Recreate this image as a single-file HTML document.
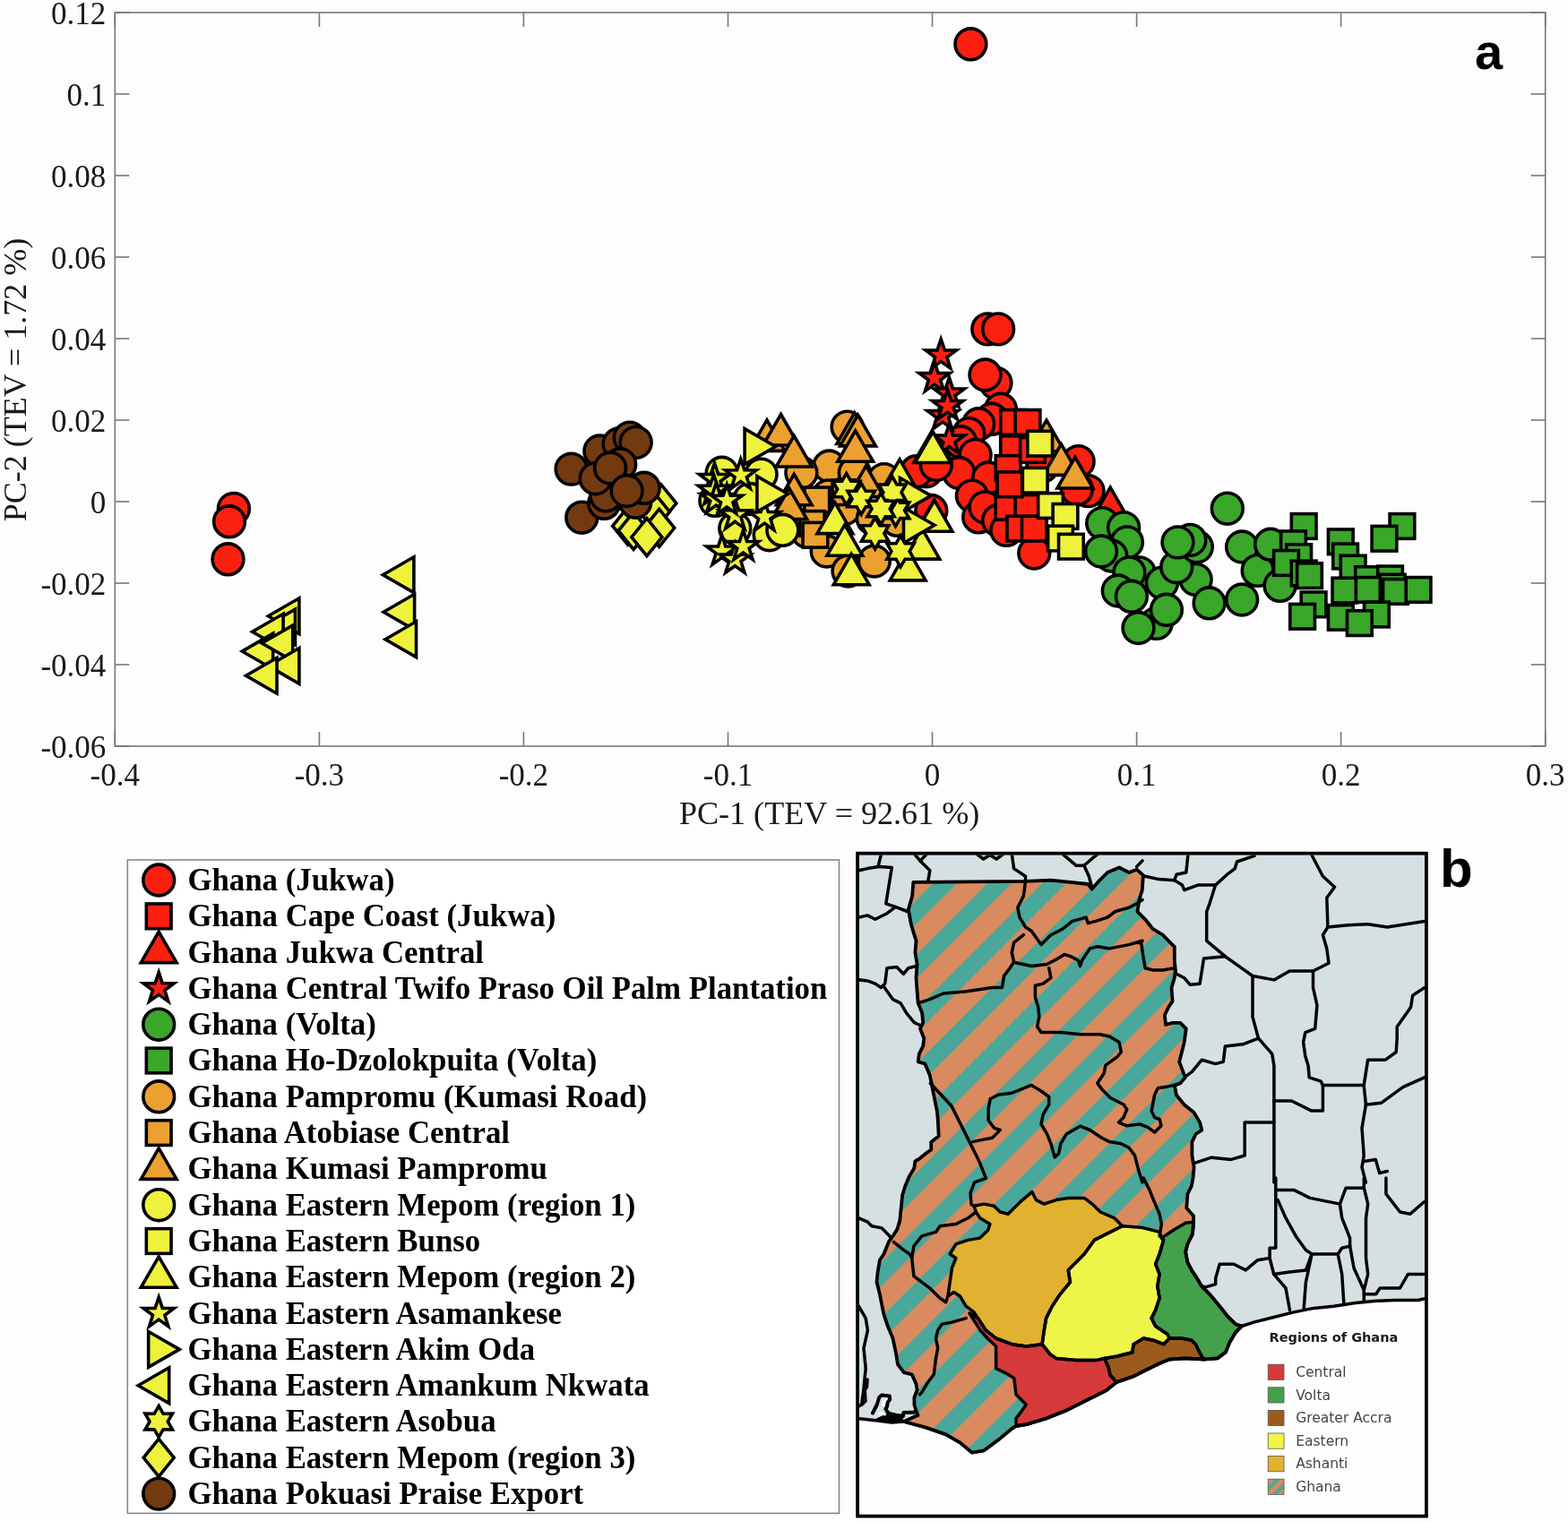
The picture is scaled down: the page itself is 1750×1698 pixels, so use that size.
<!DOCTYPE html>
<html><head><meta charset="utf-8"><style>
html,body{margin:0;padding:0;background:#fdfdfd;}
svg{display:block;}
.tk{font-family:"Liberation Serif",serif;font-size:35px;fill:#1a1a1a;}
.lg{font-family:"Liberation Serif",serif;font-size:34.8px;font-weight:bold;fill:#000;}
.mk{stroke:#000;stroke-width:3.6;stroke-linejoin:miter;stroke-miterlimit:10;}
</style></head><body>
<svg width="1750" height="1698" viewBox="0 0 1750 1698">
<rect width="1750" height="1698" fill="#fdfdfd"/>

<g stroke="#777" stroke-width="1.6"><rect x="128.3" y="14.0" width="1596.4" height="819.0" fill="none" stroke="#777" stroke-width="1.6"/><line x1="128.3" y1="833.0" x2="128.3" y2="817.0" /><line x1="128.3" y1="14.0" x2="128.3" y2="30.0" /><line x1="356.4" y1="833.0" x2="356.4" y2="817.0" /><line x1="356.4" y1="14.0" x2="356.4" y2="30.0" /><line x1="584.4" y1="833.0" x2="584.4" y2="817.0" /><line x1="584.4" y1="14.0" x2="584.4" y2="30.0" /><line x1="812.5" y1="833.0" x2="812.5" y2="817.0" /><line x1="812.5" y1="14.0" x2="812.5" y2="30.0" /><line x1="1040.5" y1="833.0" x2="1040.5" y2="817.0" /><line x1="1040.5" y1="14.0" x2="1040.5" y2="30.0" /><line x1="1268.6" y1="833.0" x2="1268.6" y2="817.0" /><line x1="1268.6" y1="14.0" x2="1268.6" y2="30.0" /><line x1="1496.6" y1="833.0" x2="1496.6" y2="817.0" /><line x1="1496.6" y1="14.0" x2="1496.6" y2="30.0" /><line x1="1724.7" y1="833.0" x2="1724.7" y2="817.0" /><line x1="1724.7" y1="14.0" x2="1724.7" y2="30.0" /><line x1="128.3" y1="833.0" x2="144.3" y2="833.0" /><line x1="1724.7" y1="833.0" x2="1708.7" y2="833.0" /><line x1="128.3" y1="742.0" x2="144.3" y2="742.0" /><line x1="1724.7" y1="742.0" x2="1708.7" y2="742.0" /><line x1="128.3" y1="651.0" x2="144.3" y2="651.0" /><line x1="1724.7" y1="651.0" x2="1708.7" y2="651.0" /><line x1="128.3" y1="560.0" x2="144.3" y2="560.0" /><line x1="1724.7" y1="560.0" x2="1708.7" y2="560.0" /><line x1="128.3" y1="469.0" x2="144.3" y2="469.0" /><line x1="1724.7" y1="469.0" x2="1708.7" y2="469.0" /><line x1="128.3" y1="378.0" x2="144.3" y2="378.0" /><line x1="1724.7" y1="378.0" x2="1708.7" y2="378.0" /><line x1="128.3" y1="287.0" x2="144.3" y2="287.0" /><line x1="1724.7" y1="287.0" x2="1708.7" y2="287.0" /><line x1="128.3" y1="196.0" x2="144.3" y2="196.0" /><line x1="1724.7" y1="196.0" x2="1708.7" y2="196.0" /><line x1="128.3" y1="105.0" x2="144.3" y2="105.0" /><line x1="1724.7" y1="105.0" x2="1708.7" y2="105.0" /><line x1="128.3" y1="14.0" x2="144.3" y2="14.0" /><line x1="1724.7" y1="14.0" x2="1708.7" y2="14.0" /></g>
<g class="tk"><text x="128.3" y="876.5" text-anchor="middle">-0.4</text><text x="356.4" y="876.5" text-anchor="middle">-0.3</text><text x="584.4" y="876.5" text-anchor="middle">-0.2</text><text x="812.5" y="876.5" text-anchor="middle">-0.1</text><text x="1040.5" y="876.5" text-anchor="middle">0</text><text x="1268.6" y="876.5" text-anchor="middle">0.1</text><text x="1496.6" y="876.5" text-anchor="middle">0.2</text><text x="1724.7" y="876.5" text-anchor="middle">0.3</text><text x="118.3" y="845.5" text-anchor="end">-0.06</text><text x="118.3" y="754.5" text-anchor="end">-0.04</text><text x="118.3" y="663.5" text-anchor="end">-0.02</text><text x="118.3" y="572.5" text-anchor="end">0</text><text x="118.3" y="481.5" text-anchor="end">0.02</text><text x="118.3" y="390.5" text-anchor="end">0.04</text><text x="118.3" y="299.5" text-anchor="end">0.06</text><text x="118.3" y="208.5" text-anchor="end">0.08</text><text x="118.3" y="117.5" text-anchor="end">0.1</text><text x="118.3" y="26.5" text-anchor="end">0.12</text></g>
<text class="tk" x="925.6" y="919.8" text-anchor="middle" style="font-size:36.1px">PC-1 (TEV = 92.61 %)</text>
<text class="tk" transform="translate(29.4,424) rotate(-90)" x="0" y="0" text-anchor="middle" style="font-size:36.0px">PC-2 (TEV = 1.72 %)</text>
<text x="1646" y="77" style="font-family:'Liberation Sans',sans-serif;font-weight:bold;font-size:56px;fill:#000">a</text>
<text x="1607" y="990" style="font-family:'Liberation Sans',sans-serif;font-weight:bold;font-size:60px;fill:#000">b</text>
<g class="mk"><circle cx="260.9" cy="567.9" r="17.4" fill="#fc2010"/><circle cx="256.0" cy="582.3" r="17.4" fill="#fc2010"/><circle cx="254.5" cy="624.3" r="17.4" fill="#fc2010"/><circle cx="1102.3" cy="367.4" r="17.4" fill="#fc2010"/><circle cx="1114.1" cy="367.4" r="17.4" fill="#fc2010"/><circle cx="1111.4" cy="427.6" r="17.4" fill="#fc2010"/><circle cx="1099.5" cy="418.5" r="17.4" fill="#fc2010"/><circle cx="1116.9" cy="456.8" r="17.4" fill="#fc2010"/><circle cx="1106.8" cy="467.8" r="17.4" fill="#fc2010"/><circle cx="1092.2" cy="473.3" r="17.4" fill="#fc2010"/><circle cx="1081.3" cy="484.2" r="17.4" fill="#fc2010"/><circle cx="1072.1" cy="493.3" r="17.4" fill="#fc2010"/><circle cx="1088.6" cy="507.9" r="17.4" fill="#fc2010"/><circle cx="1070.3" cy="528.0" r="17.4" fill="#fc2010"/><circle cx="1103.2" cy="533.5" r="17.4" fill="#fc2010"/><circle cx="1084.9" cy="553.6" r="17.4" fill="#fc2010"/><circle cx="1092.2" cy="577.3" r="17.4" fill="#fc2010"/><circle cx="1099.5" cy="566.4" r="17.4" fill="#fc2010"/><circle cx="1114.1" cy="581.0" r="17.4" fill="#fc2010"/><circle cx="1154.3" cy="617.5" r="17.4" fill="#fc2010"/><circle cx="1203.6" cy="515.2" r="17.4" fill="#fc2010"/><circle cx="1214.5" cy="548.1" r="17.4" fill="#fc2010"/><circle cx="1201.8" cy="546.3" r="17.4" fill="#fc2010"/><circle cx="1033.8" cy="526.2" r="17.4" fill="#fc2010"/><circle cx="1022.9" cy="526.2" r="17.4" fill="#fc2010"/><circle cx="1044.8" cy="518.9" r="17.4" fill="#fc2010"/><circle cx="1039.3" cy="570.0" r="17.4" fill="#fc2010"/><circle cx="1132.4" cy="544.5" r="17.4" fill="#fc2010"/><circle cx="1123.3" cy="591.9" r="17.4" fill="#fc2010"/><circle cx="1163.4" cy="520.7" r="17.4" fill="#fc2010"/><circle cx="1083.4" cy="49.3" r="17.4" fill="#fc2010"/><rect x="1116.71" y="457.58" width="27.7" height="27.7" fill="#fc2010"/><rect x="1133.14" y="457.58" width="27.7" height="27.7" fill="#fc2010"/><rect x="1116.71" y="486.79" width="27.7" height="27.7" fill="#fc2010"/><rect x="1111.24" y="508.70" width="27.7" height="27.7" fill="#fc2010"/><rect x="1138.62" y="488.62" width="27.7" height="27.7" fill="#fc2010"/><rect x="1111.24" y="552.51" width="27.7" height="27.7" fill="#fc2010"/><rect x="1133.14" y="552.51" width="27.7" height="27.7" fill="#fc2010"/><rect x="1124.01" y="576.24" width="27.7" height="27.7" fill="#fc2010"/><rect x="1140.44" y="576.24" width="27.7" height="27.7" fill="#fc2010"/><rect x="1113.06" y="526.95" width="27.7" height="27.7" fill="#fc2010"/><polygon points="1239.2,544.1 1259.1,578.6 1219.3,578.6" fill="#fc2010"/><polygon points="1050.2,378.6 1054.4,390.9 1067.4,391.0 1056.9,398.8 1060.8,411.2 1050.2,403.6 1039.7,411.2 1043.6,398.8 1033.1,391.0 1046.1,390.9" fill="#fc2010"/><polygon points="1042.9,404.1 1047.1,416.5 1060.1,416.6 1049.6,424.3 1053.5,436.7 1042.9,429.1 1032.4,436.7 1036.3,424.3 1025.8,416.6 1038.8,416.5" fill="#fc2010"/><polygon points="1059.4,421.5 1063.5,433.8 1076.5,433.9 1066.0,441.7 1069.9,454.1 1059.4,446.5 1048.8,454.1 1052.7,441.7 1042.2,433.9 1055.3,433.8" fill="#fc2010"/><polygon points="1052.1,446.1 1056.2,458.5 1069.2,458.6 1058.7,466.3 1062.6,478.7 1052.1,471.1 1041.5,478.7 1045.4,466.3 1034.9,458.6 1048.0,458.5" fill="#fc2010"/><polygon points="1057.5,435.2 1061.7,447.5 1074.7,447.6 1064.2,455.3 1068.1,467.7 1057.5,460.2 1047.0,467.7 1050.9,455.3 1040.4,447.6 1053.4,447.5" fill="#fc2010"/><polygon points="1059.4,473.5 1063.5,485.9 1076.5,486.0 1066.0,493.7 1069.9,506.1 1059.4,498.5 1048.8,506.1 1052.7,493.7 1042.2,486.0 1055.3,485.9" fill="#fc2010"/><circle cx="1369.8" cy="567.7" r="17.4" fill="#3aa62a"/><circle cx="1230.2" cy="584.1" r="17.4" fill="#3aa62a"/><circle cx="1254.1" cy="589.1" r="17.4" fill="#3aa62a"/><circle cx="1257.9" cy="605.4" r="17.4" fill="#3aa62a"/><circle cx="1240.3" cy="620.5" r="17.4" fill="#3aa62a"/><circle cx="1229.0" cy="615.5" r="17.4" fill="#3aa62a"/><circle cx="1271.7" cy="639.4" r="17.4" fill="#3aa62a"/><circle cx="1260.4" cy="639.4" r="17.4" fill="#3aa62a"/><circle cx="1247.8" cy="659.5" r="17.4" fill="#3aa62a"/><circle cx="1262.9" cy="665.8" r="17.4" fill="#3aa62a"/><circle cx="1296.9" cy="650.7" r="17.4" fill="#3aa62a"/><circle cx="1334.6" cy="646.9" r="17.4" fill="#3aa62a"/><circle cx="1313.2" cy="633.1" r="17.4" fill="#3aa62a"/><circle cx="1335.8" cy="610.5" r="17.4" fill="#3aa62a"/><circle cx="1328.3" cy="602.9" r="17.4" fill="#3aa62a"/><circle cx="1314.5" cy="605.4" r="17.4" fill="#3aa62a"/><circle cx="1290.6" cy="695.9" r="17.4" fill="#3aa62a"/><circle cx="1270.5" cy="701.0" r="17.4" fill="#3aa62a"/><circle cx="1301.9" cy="680.8" r="17.4" fill="#3aa62a"/><circle cx="1349.6" cy="673.3" r="17.4" fill="#3aa62a"/><circle cx="1386.1" cy="669.5" r="17.4" fill="#3aa62a"/><circle cx="1386.1" cy="610.5" r="17.4" fill="#3aa62a"/><circle cx="1403.7" cy="636.9" r="17.4" fill="#3aa62a"/><circle cx="1418.1" cy="607.8" r="17.4" fill="#3aa62a"/><circle cx="1428.6" cy="653.8" r="17.4" fill="#3aa62a"/><rect x="1441.32" y="573.61" width="27.7" height="27.7" fill="#3aa62a"/><rect x="1551.06" y="573.61" width="27.7" height="27.7" fill="#3aa62a"/><rect x="1531.09" y="587.41" width="27.7" height="27.7" fill="#3aa62a"/><rect x="1482.46" y="590.95" width="27.7" height="27.7" fill="#3aa62a"/><rect x="1429.63" y="592.92" width="27.7" height="27.7" fill="#3aa62a"/><rect x="1435.80" y="607.78" width="27.7" height="27.7" fill="#3aa62a"/><rect x="1487.72" y="607.12" width="27.7" height="27.7" fill="#3aa62a"/><rect x="1421.61" y="614.61" width="27.7" height="27.7" fill="#3aa62a"/><rect x="1496.26" y="620.26" width="27.7" height="27.7" fill="#3aa62a"/><rect x="1441.32" y="626.17" width="27.7" height="27.7" fill="#3aa62a"/><rect x="1447.63" y="628.80" width="27.7" height="27.7" fill="#3aa62a"/><rect x="1512.69" y="632.75" width="27.7" height="27.7" fill="#3aa62a"/><rect x="1537.66" y="632.09" width="27.7" height="27.7" fill="#3aa62a"/><rect x="1487.06" y="645.23" width="27.7" height="27.7" fill="#3aa62a"/><rect x="1513.34" y="644.57" width="27.7" height="27.7" fill="#3aa62a"/><rect x="1540.29" y="641.29" width="27.7" height="27.7" fill="#3aa62a"/><rect x="1543.57" y="646.55" width="27.7" height="27.7" fill="#3aa62a"/><rect x="1569.20" y="644.57" width="27.7" height="27.7" fill="#3aa62a"/><rect x="1452.23" y="661.00" width="27.7" height="27.7" fill="#3aa62a"/><rect x="1439.75" y="674.41" width="27.7" height="27.7" fill="#3aa62a"/><rect x="1482.46" y="675.46" width="27.7" height="27.7" fill="#3aa62a"/><rect x="1522.54" y="672.17" width="27.7" height="27.7" fill="#3aa62a"/><rect x="1503.49" y="681.77" width="27.7" height="27.7" fill="#3aa62a"/><circle cx="945.6" cy="476.6" r="17.4" fill="#eca030"/><circle cx="925.5" cy="520.5" r="17.4" fill="#eca030"/><circle cx="894.4" cy="527.8" r="17.4" fill="#eca030"/><circle cx="953.8" cy="527.8" r="17.4" fill="#eca030"/><circle cx="986.7" cy="535.1" r="17.4" fill="#eca030"/><circle cx="924.6" cy="553.4" r="17.4" fill="#eca030"/><circle cx="942.8" cy="568.0" r="17.4" fill="#eca030"/><circle cx="973.9" cy="579.0" r="17.4" fill="#eca030"/><circle cx="1001.4" cy="580.8" r="17.4" fill="#eca030"/><circle cx="922.7" cy="615.5" r="17.4" fill="#eca030"/><circle cx="946.5" cy="637.5" r="17.4" fill="#eca030"/><circle cx="975.8" cy="626.5" r="17.4" fill="#eca030"/><circle cx="900.8" cy="593.6" r="17.4" fill="#eca030"/><rect x="897.91" y="544.09" width="27.7" height="27.7" fill="#eca030"/><rect x="892.43" y="570.60" width="27.7" height="27.7" fill="#eca030"/><rect x="896.09" y="583.40" width="27.7" height="27.7" fill="#eca030"/><rect x="929.00" y="535.86" width="27.7" height="27.7" fill="#eca030"/><polygon points="856.0,468.9 875.9,503.4 836.1,503.4" fill="#eca030"/><polygon points="871.5,462.5 891.4,497.0 851.6,497.0" fill="#eca030"/><polygon points="886.2,486.5 906.1,521.0 866.3,521.0" fill="#eca030"/><polygon points="886.2,529.3 906.1,563.8 866.3,563.8" fill="#eca030"/><polygon points="880.7,545.0 900.6,579.5 860.8,579.5" fill="#eca030"/><polygon points="953.8,460.9 973.7,495.4 933.9,495.4" fill="#eca030"/><polygon points="957.5,463.4 977.4,497.9 937.6,497.9" fill="#eca030"/><polygon points="954.7,480.8 974.6,515.3 934.8,515.3" fill="#eca030"/><polygon points="966.6,520.1 986.5,554.6 946.7,554.6" fill="#eca030"/><polygon points="1168.0,469.2 1187.9,503.7 1148.1,503.7" fill="#eca030"/><polygon points="1184.4,495.9 1204.3,530.4 1164.5,530.4" fill="#eca030"/><polygon points="1199.9,510.5 1219.8,545.0 1180.0,545.0" fill="#eca030"/><circle cx="805.7" cy="527.8" r="17.4" fill="#eef23c"/><circle cx="849.6" cy="529.6" r="17.4" fill="#eef23c"/><circle cx="858.7" cy="597.2" r="17.4" fill="#eef23c"/><circle cx="873.4" cy="591.8" r="17.4" fill="#eef23c"/><circle cx="820.3" cy="589.9" r="17.4" fill="#eef23c"/><circle cx="836.8" cy="557.0" r="17.4" fill="#eef23c"/><circle cx="798.4" cy="558.9" r="17.4" fill="#eef23c"/><rect x="1146.83" y="481.32" width="27.7" height="27.7" fill="#eef23c"/><rect x="1141.36" y="522.39" width="27.7" height="27.7" fill="#eef23c"/><rect x="1158.70" y="550.68" width="27.7" height="27.7" fill="#eef23c"/><rect x="1175.13" y="562.55" width="27.7" height="27.7" fill="#eef23c"/><rect x="1169.65" y="587.19" width="27.7" height="27.7" fill="#eef23c"/><rect x="1181.52" y="596.32" width="27.7" height="27.7" fill="#eef23c"/><polygon points="1039.8,481.7 1059.7,516.2 1019.9,516.2" fill="#eef23c"/><polygon points="1004.1,512.8 1024.0,547.3 984.2,547.3" fill="#eef23c"/><polygon points="931.9,561.1 951.8,595.6 912.0,595.6" fill="#eef23c"/><polygon points="942.8,585.8 962.7,620.3 922.9,620.3" fill="#eef23c"/><polygon points="950.2,618.3 970.1,652.8 930.3,652.8" fill="#eef23c"/><polygon points="1042.5,558.5 1062.4,593.0 1022.6,593.0" fill="#eef23c"/><polygon points="1013.2,613.4 1033.1,647.9 993.3,647.9" fill="#eef23c"/><polygon points="1028.8,589.6 1048.7,624.1 1008.9,624.1" fill="#eef23c"/><polygon points="1041.1,482.0 1061.0,516.5 1021.2,516.5" fill="#eef23c"/><polygon points="1042.9,558.7 1062.8,593.2 1023.0,593.2" fill="#eef23c"/><polygon points="797.5,517.1 801.6,529.4 814.6,529.5 804.1,537.2 808.1,549.6 797.5,542.1 786.9,549.6 790.8,537.2 780.4,529.5 793.4,529.4" fill="#eef23c"/><polygon points="796.6,529.9 800.7,542.2 813.7,542.3 803.2,550.0 807.1,562.4 796.6,554.9 786.0,562.4 789.9,550.0 779.5,542.3 792.5,542.2" fill="#eef23c"/><polygon points="799.3,539.0 803.4,551.4 816.4,551.5 806.0,559.2 809.9,571.6 799.3,564.0 788.7,571.6 792.7,559.2 782.2,551.5 795.2,551.4" fill="#eef23c"/><polygon points="826.7,512.5 830.9,524.8 843.9,524.9 833.4,532.7 837.3,545.1 826.7,537.5 816.2,545.1 820.1,532.7 809.6,524.9 822.6,524.8" fill="#eef23c"/><polygon points="820.3,557.3 824.5,569.6 837.5,569.7 827.0,577.5 830.9,589.9 820.3,582.3 809.8,589.9 813.7,577.5 803.2,569.7 816.2,569.6" fill="#eef23c"/><polygon points="853.3,559.1 857.4,571.5 870.4,571.6 859.9,579.3 863.8,591.7 853.3,584.1 842.7,591.7 846.6,579.3 836.1,571.6 849.1,571.5" fill="#eef23c"/><polygon points="805.7,597.5 809.8,609.9 822.8,610.0 812.4,617.7 816.3,630.1 805.7,622.5 795.1,630.1 799.1,617.7 788.6,610.0 801.6,609.9" fill="#eef23c"/><polygon points="820.3,606.7 824.5,619.0 837.5,619.1 827.0,626.8 830.9,639.2 820.3,631.7 809.8,639.2 813.7,626.8 803.2,619.1 816.2,619.0" fill="#eef23c"/><polygon points="829.5,592.0 833.6,604.4 846.6,604.5 836.1,612.2 840.1,624.6 829.5,617.0 818.9,624.6 822.8,612.2 812.4,604.5 825.4,604.4" fill="#eef23c"/><polygon points="811.2,540.9 815.3,553.2 828.3,553.3 817.9,561.0 821.8,573.4 811.2,565.9 800.6,573.4 804.5,561.0 794.1,553.3 807.1,553.2" fill="#eef23c"/><polygon points="865.6,498.5 831.1,478.6 831.1,518.4" fill="#eef23c"/><polygon points="879.4,551.5 844.9,531.6 844.9,571.4" fill="#eef23c"/><polygon points="1043.0,586.3 1008.5,566.4 1008.5,606.2" fill="#eef23c"/><polygon points="1039.0,553.4 1004.5,533.5 1004.5,573.3" fill="#eef23c"/><polygon points="427.4,641.7 461.9,621.8 461.9,661.6" fill="#eef23c"/><polygon points="428.1,683.2 462.6,663.3 462.6,703.1" fill="#eef23c"/><polygon points="430.0,713.7 464.5,693.8 464.5,733.6" fill="#eef23c"/><polygon points="299.4,687.7 333.9,667.8 333.9,707.6" fill="#eef23c"/><polygon points="295.0,700.0 329.5,680.1 329.5,719.9" fill="#eef23c"/><polygon points="281.6,705.2 316.1,685.3 316.1,725.1" fill="#eef23c"/><polygon points="270.2,727.1 304.7,707.2 304.7,747.0" fill="#eef23c"/><polygon points="292.2,718.0 326.7,698.1 326.7,737.9" fill="#eef23c"/><polygon points="299.4,743.4 333.9,723.5 333.9,763.3" fill="#eef23c"/><polygon points="274.5,754.3 309.0,734.4 309.0,774.2" fill="#eef23c"/><polygon points="944.7,528.6 949.7,537.3 959.8,537.3 954.8,546.1 959.8,554.8 949.7,554.8 944.7,563.6 939.6,554.8 929.5,554.8 934.6,546.1 929.5,537.3 939.6,537.3" fill="#eef23c"/><polygon points="961.1,539.5 966.2,548.3 976.3,548.3 971.2,557.0 976.3,565.8 966.2,565.8 961.1,574.5 956.1,565.8 946.0,565.8 951.0,557.0 946.0,548.3 956.1,548.3" fill="#eef23c"/><polygon points="999.5,552.3 1004.6,561.1 1014.7,561.1 1009.6,569.8 1014.7,578.6 1004.6,578.6 999.5,587.3 994.5,578.6 984.4,578.6 989.4,569.8 984.4,561.1 994.5,561.1" fill="#eef23c"/><polygon points="995.9,532.2 1000.9,541.0 1011.0,541.0 1006.0,549.7 1011.0,558.5 1000.9,558.5 995.9,567.2 990.8,558.5 980.7,558.5 985.8,549.7 980.7,541.0 990.8,541.0" fill="#eef23c"/><polygon points="976.7,577.9 981.7,586.7 991.8,586.7 986.8,595.4 991.8,604.2 981.7,604.2 976.7,612.9 971.6,604.2 961.5,604.2 966.6,595.4 961.5,586.7 971.6,586.7" fill="#eef23c"/><polygon points="1005.0,598.0 1010.1,606.8 1020.2,606.8 1015.1,615.5 1020.2,624.3 1010.1,624.3 1005.0,633.0 1000.0,624.3 989.9,624.3 994.9,615.5 989.9,606.8 1000.0,606.8" fill="#eef23c"/><polygon points="983.1,550.5 988.1,559.2 998.2,559.2 993.2,568.0 998.2,576.7 988.1,576.7 983.1,585.5 978.0,576.7 967.9,576.7 973.0,568.0 967.9,559.2 978.0,559.2" fill="#eef23c"/><polygon points="737.8,540.8 754.8,561.8 737.8,582.8 720.8,561.8" fill="#eef23c"/><polygon points="730.4,550.3 747.4,571.3 730.4,592.3 713.4,571.3" fill="#eef23c"/><polygon points="700.7,566.2 717.7,587.2 700.7,608.2 683.7,587.2" fill="#eef23c"/><polygon points="707.1,571.5 724.1,592.5 707.1,613.5 690.1,592.5" fill="#eef23c"/><polygon points="735.7,568.3 752.7,589.3 735.7,610.3 718.7,589.3" fill="#eef23c"/><polygon points="721.9,578.7 738.9,599.7 721.9,620.7 704.9,599.7" fill="#eef23c"/><circle cx="637.6" cy="523.6" r="17.4" fill="#733a10"/><circle cx="649.3" cy="577.7" r="17.4" fill="#733a10"/><circle cx="669.4" cy="503.5" r="17.4" fill="#733a10"/><circle cx="690.6" cy="495.5" r="17.4" fill="#733a10"/><circle cx="702.8" cy="488.6" r="17.4" fill="#733a10"/><circle cx="709.7" cy="493.9" r="17.4" fill="#733a10"/><circle cx="674.2" cy="561.8" r="17.4" fill="#733a10"/><circle cx="676.3" cy="553.3" r="17.4" fill="#733a10"/><circle cx="664.7" cy="534.2" r="17.4" fill="#733a10"/><circle cx="692.2" cy="518.3" r="17.4" fill="#733a10"/><circle cx="681.1" cy="522.5" r="17.4" fill="#733a10"/><circle cx="709.2" cy="560.7" r="17.4" fill="#733a10"/><circle cx="718.7" cy="544.8" r="17.4" fill="#733a10"/><circle cx="699.6" cy="548.0" r="17.4" fill="#733a10"/></g>
<rect x="142.3" y="960" width="794.2" height="729.4" fill="#fff" stroke="#888" stroke-width="1.6"/>
<g class="mk"><circle cx="177.2" cy="982.5" r="17.4" fill="#fc2010"/><rect x="163.35" y="1008.95" width="27.7" height="27.7" fill="#fc2010"/><polygon points="177.2,1040.1 197.1,1074.6 157.3,1074.6" fill="#fc2010"/><polygon points="177.2,1085.4 181.3,1097.7 194.3,1097.8 183.9,1105.6 187.8,1118.0 177.2,1110.4 166.6,1118.0 170.5,1105.6 160.1,1097.8 173.1,1097.7" fill="#fc2010"/><circle cx="177.2" cy="1143.7" r="17.4" fill="#3aa62a"/><rect x="163.35" y="1170.15" width="27.7" height="27.7" fill="#3aa62a"/><circle cx="177.2" cy="1224.3" r="17.4" fill="#eca030"/><rect x="163.35" y="1250.75" width="27.7" height="27.7" fill="#eca030"/><polygon points="177.2,1281.9 197.1,1316.4 157.3,1316.4" fill="#eca030"/><circle cx="177.2" cy="1345.2" r="17.4" fill="#eef23c"/><rect x="163.35" y="1371.65" width="27.7" height="27.7" fill="#eef23c"/><polygon points="177.2,1402.8 197.1,1437.3 157.3,1437.3" fill="#eef23c"/><polygon points="177.2,1448.1 181.3,1460.4 194.3,1460.5 183.9,1468.3 187.8,1480.7 177.2,1473.1 166.6,1480.7 170.5,1468.3 160.1,1460.5 173.1,1460.4" fill="#eef23c"/><polygon points="200.2,1506.4 165.7,1486.5 165.7,1526.3" fill="#eef23c"/><polygon points="154.2,1546.7 188.7,1526.8 188.7,1566.6" fill="#eef23c"/><polygon points="177.2,1569.5 182.2,1578.3 192.4,1578.2 187.3,1587.0 192.4,1595.8 182.2,1595.7 177.2,1604.5 172.1,1595.7 162.0,1595.8 167.1,1587.0 162.0,1578.2 172.1,1578.3" fill="#eef23c"/><polygon points="177.2,1606.3 194.2,1627.3 177.2,1648.3 160.2,1627.3" fill="#eef23c"/><circle cx="177.2" cy="1667.6" r="17.4" fill="#733a10"/></g>
<g class="lg"><text x="209.4" y="993.9">Ghana (Jukwa)</text><text x="209.4" y="1034.2">Ghana Cape Coast (Jukwa)</text><text x="209.4" y="1074.5">Ghana Jukwa Central</text><text x="209.4" y="1114.8">Ghana Central Twifo Praso Oil Palm Plantation</text><text x="209.4" y="1155.1">Ghana (Volta)</text><text x="209.4" y="1195.4">Ghana Ho-Dzolokpuita (Volta)</text><text x="209.4" y="1235.7">Ghana Pampromu (Kumasi Road)</text><text x="209.4" y="1276.0">Ghana Atobiase Central</text><text x="209.4" y="1316.3">Ghana Kumasi Pampromu</text><text x="209.4" y="1356.6">Ghana Eastern Mepom (region 1)</text><text x="209.4" y="1396.9">Ghana Eastern Bunso</text><text x="209.4" y="1437.2">Ghana Eastern Mepom (region 2)</text><text x="209.4" y="1477.5">Ghana Eastern Asamankese</text><text x="209.4" y="1517.8">Ghana Eastern Akim Oda</text><text x="209.4" y="1558.1">Ghana Eastern Amankum Nkwata</text><text x="209.4" y="1598.4">Ghana Eastern Asobua</text><text x="209.4" y="1638.7">Ghana Eastern Mepom (region 3)</text><text x="209.4" y="1679.0">Ghana Pokuasi Praise Export</text></g>
<defs>
<pattern id="stripes" patternUnits="userSpaceOnUse" width="43.06" height="20" patternTransform="rotate(45)">
<rect x="0" y="0" width="43.06" height="20" fill="#4aa89a"/>
<rect x="31.6" y="0" width="11.46" height="20" fill="#d98a5e"/>
<rect x="0" y="0" width="12.65" height="20" fill="#d98a5e"/>
</pattern>
<pattern id="stripes2" patternUnits="userSpaceOnUse" width="9.55" height="20" patternTransform="rotate(45)">
<rect x="0" y="0" width="9.55" height="20" fill="#4aa89a"/>
<rect x="0.675" y="0" width="5.25" height="20" fill="#d98a5e"/>
</pattern>
<clipPath id="mapclip"><rect x="959.0" y="954.5" width="631.0" height="736.2"/></clipPath>
</defs>
<g clip-path="url(#mapclip)">
<rect x="959.0" y="954.5" width="631.0" height="736.2" fill="#d6e0e2"/>
<polygon points="957.0,1583.5 977.4,1585.8 995.3,1588.0 1008.7,1586.9 1033.3,1593.6 1055.7,1601.4 1071.4,1610.4 1084.8,1621.6 1098.2,1619.3 1116.1,1605.9 1129.5,1594.7 1134.0,1592.0 1145.2,1590.2 1167.6,1583.5 1190.0,1574.6 1212.3,1563.4 1234.7,1552.2 1245.9,1543.2 1265.0,1536.5 1278.4,1529.8 1291.8,1523.1 1305.3,1517.5 1323.2,1516.3 1343.3,1517.5 1359.0,1516.3 1367.9,1509.6 1372.4,1498.4 1379.1,1487.3 1385.8,1480.5 1399.2,1476.1 1421.6,1470.5 1444.0,1464.9 1466.3,1460.4 1488.7,1458.2 1511.1,1454.8 1533.5,1452.6 1555.8,1451.5 1582.7,1451.5 1592.0,1449.2 1592.0,1692.7 957.0,1692.7" fill="#fefefe"/>
<g fill="none" stroke="#000" stroke-width="3.5" stroke-linejoin="round" stroke-linecap="round"><polyline points="958.3,971.8 968.1,969.6 981.1,967.4 995.3,968.5 988.8,1008.8 998.6,1012.1 1012.7,1017.5"/><polyline points="983.3,954.4 980.1,967.4"/><polyline points="958.3,1024.1 968.1,1021.9 976.8,1026.3 989.9,1019.7 998.6,1013.2"/><polyline points="1020.4,953.3 1026.9,960.9 1037.8,971.8 1035.6,984.9"/><polyline points="1026.9,960.9 1033.4,954.4"/><polyline points="1129.3,953.3 1131.5,969.6 1144.5,978.3 1144.5,983.8"/><polyline points="1185.9,953.3 1201.2,966.3 1209.9,966.3 1215.3,978.3 1218.6,990.3"/><polyline points="1209.9,966.3 1218.6,958.7 1225.2,953.3"/><polyline points="1268.7,967.4 1275.0,960.9"/><polyline points="958.3,1093.8 968.1,1094.9 976.8,1098.1 983.3,1102.5 987.7,1098.1 989.9,1080.7 1000.8,1079.6 1008.4,1087.3 1013.8,1080.7 1022.5,1078.5"/><polyline points="985.5,1100.3 996.4,1115.6 1005.1,1119.9 1011.6,1130.8 1020.4,1141.7 1028.0,1145.0"/><polyline points="1090.3,953.5 1097.6,959.0 1104.9,954.4 1112.2,959.0 1119.5,953.5"/><polyline points="1265.0,974.0 1278.1,978.3 1293.3,981.6 1310.8,982.7 1319.5,988.1 1321.7,993.6 1336.9,988.1 1356.5,988.1"/><polyline points="1356.5,988.1 1369.6,976.2 1378.3,969.6 1380.5,962.0 1400.1,955.4"/><polyline points="1310.8,982.7 1313.0,976.2 1323.8,974.0 1326.0,953.3"/><polyline points="1356.5,988.1 1350.0,1008.8 1346.7,1017.6 1346.7,1050.3 1367.4,1067.7 1382.7,1078.6 1398.0,1089.5 1421.9,1093.9 1439.4,1084.0 1465.5,1084.0 1483.0,1075.3 1480.8,1059.0 1476.4,1043.7 1481.9,1035.0 1504.8,1032.8 1526.6,1031.7 1548.3,1035.0 1589.8,1028.5"/><polyline points="1463.3,953.3 1476.4,978.3 1489.5,990.3 1480.8,1002.3 1481.9,1035.0"/><polyline points="1465.5,1084.0 1465.5,1102.6 1469.9,1122.2 1467.7,1148.3 1456.8,1152.7 1454.6,1163.6 1456.8,1178.9 1460.1,1189.8 1461.2,1202.8 1474.2,1207.2 1476.4,1211.6 1522.2,1211.6 1526.6,1183.2 1546.2,1183.2 1558.2,1174.5 1559.2,1159.2 1559.2,1146.2 1574.5,1124.4 1576.7,1111.3 1589.8,1102.6"/><polyline points="1398.0,1089.5 1398.0,1135.3 1404.5,1159.2 1419.8,1176.7 1421.9,1189.8 1421.9,1229.0 1421.9,1250.8 1421.9,1320.1"/><polyline points="1404.5,1159.2 1387.1,1165.8 1367.4,1168.0 1365.3,1185.4 1356.5,1187.6 1341.3,1183.2 1330.4,1196.3 1321.7,1202.8"/><polyline points="1367.4,1067.7 1343.5,1069.9 1339.1,1098.2 1328.2,1099.3 1321.7,1091.7 1313.0,1087.3 1310.8,1083.0"/><polyline points="1421.9,1229.0 1441.5,1229.0 1463.3,1239.9 1476.4,1239.9 1476.4,1211.6"/><polyline points="1522.2,1211.6 1524.4,1233.3 1541.8,1231.2 1565.8,1213.7 1589.8,1202.8"/><polyline points="1421.9,1253.0 1389.2,1253.0 1389.2,1290.0 1374.0,1294.4 1352.2,1292.2 1332.6,1298.7"/><polyline points="1524.4,1233.3 1520.0,1259.5 1522.2,1290.0 1520.0,1303.1 1524.4,1320.1"/><polyline points="1522.2,1296.6 1535.3,1294.4 1539.6,1309.6 1548.3,1307.5"/><polyline points="958.4,1359.8 968.4,1364.2 972.9,1368.7 984.1,1370.9 993.0,1379.9 997.5,1386.6"/><polyline points="958.4,1458.2 966.2,1471.6 968.4,1485.1 964.0,1505.2 966.2,1527.6 964.0,1550.0 961.7,1567.9"/><polyline points="1423.8,1315.0 1423.8,1393.3 1417.1,1393.3 1417.1,1404.5 1403.7,1406.7 1390.3,1417.9 1376.9,1411.2 1361.2,1411.2 1356.7,1426.9 1356.7,1433.6 1345.5,1436.9 1341.1,1435.8"/><polyline points="1417.1,1404.5 1421.6,1422.4 1435.0,1438.0 1439.5,1462.7"/><polyline points="1421.6,1422.4 1439.5,1420.1 1457.4,1417.9 1464.1,1400.0 1493.2,1400.0 1497.7,1393.3 1506.6,1391.1"/><polyline points="1423.8,1328.4 1444.0,1328.4 1461.9,1337.4 1495.4,1344.1 1497.7,1359.7 1506.6,1382.1 1506.6,1391.1"/><polyline points="1426.1,1339.6 1435.0,1359.7 1446.2,1379.9 1457.4,1395.5 1464.1,1400.0"/><polyline points="1464.1,1400.0 1457.4,1431.3 1455.2,1460.4"/><polyline points="1493.2,1400.0 1497.7,1422.4 1499.9,1455.9"/><polyline points="1495.4,1344.1 1502.1,1326.2 1522.3,1326.2 1522.3,1315.0"/><polyline points="1522.3,1326.2 1526.7,1344.1 1524.5,1359.7 1524.5,1404.5 1526.7,1422.4 1522.3,1440.3 1522.3,1451.5"/><polyline points="1506.6,1391.1 1511.1,1415.7 1522.3,1440.3"/><polyline points="1522.3,1444.8 1535.7,1444.8 1540.2,1438.0 1562.5,1438.0 1571.5,1422.4 1589.4,1422.4"/><polyline points="1546.9,1315.0 1546.9,1332.9 1562.5,1353.0 1573.7,1355.3 1589.4,1341.8"/><polyline points="957.0,1583.5 977.4,1585.8 995.3,1588.0 1008.7,1586.9 1033.3,1593.6 1055.7,1601.4 1071.4,1610.4 1084.8,1621.6 1098.2,1619.3 1116.1,1605.9 1129.5,1594.7 1134.0,1592.0 1145.2,1590.2 1167.6,1583.5 1190.0,1574.6 1212.3,1563.4 1234.7,1552.2 1245.9,1543.2 1265.0,1536.5 1278.4,1529.8 1291.8,1523.1 1305.3,1517.5 1323.2,1516.3 1343.3,1517.5 1359.0,1516.3 1367.9,1509.6 1372.4,1498.4 1379.1,1487.3 1385.8,1480.5 1399.2,1476.1 1421.6,1470.5 1444.0,1464.9 1466.3,1460.4 1488.7,1458.2 1511.1,1454.8 1533.5,1452.6 1555.8,1451.5 1582.7,1451.5 1592.0,1449.2"/></g>
<polygon points="990.0,1578.0 1008.0,1580.5 1008.0,1586.5 1000.0,1588.4 990.0,1587.2 980.0,1585.8 976.0,1584.5" fill="#000"/>
<polyline points="974.0,1577.5 978.8,1568.0 981.2,1560.0 984.0,1557.6 992.8,1558.4 993.2,1562.4 990.8,1565.6 990.0,1570.4 988.4,1572.8 990.8,1576.8 994.0,1578.4 1000.0,1579.6 1008.0,1581.0 1008.4,1577.0 1020.0,1576.8 1023.0,1575.0" fill="none" stroke="#000" stroke-width="4" stroke-linejoin="round" stroke-linecap="round"/>
<polyline points="968.0,1540.0 967.6,1548.0 965.2,1552.0 966.0,1564.0 962.0,1568.0 958.0,1570.0" fill="none" stroke="#000" stroke-width="3.5" stroke-linejoin="round" stroke-linecap="round"/>
<polygon points="985.4,1562.2 989.6,1561.6 987.8,1566.0 986.4,1569.6 984.2,1569.8" fill="#fefefe"/>
<polygon points="979.6,1578.6 983.4,1575.4 988.4,1578.4 989.0,1580.6 983.0,1579.8" fill="#fefefe"/>
<polygon points="1019.3,984.9 1144.5,983.8 1172.9,982.7 1194.6,984.9 1214.3,987.0 1218.6,992.5 1225.2,984.9 1236.0,974.0 1249.1,968.5 1260.0,974.0 1268.7,970.7 1275.9,977.2 1274.8,993.6 1271.5,1004.5 1269.4,1017.6 1278.1,1026.3 1286.8,1037.2 1297.7,1043.7 1304.2,1050.3 1310.8,1056.8 1310.8,1072.1 1311.9,1083.0 1310.8,1091.7 1307.5,1102.6 1308.6,1117.8 1304.2,1124.4 1299.9,1133.1 1301.0,1144.0 1308.6,1141.8 1317.3,1141.8 1323.8,1148.3 1321.7,1163.6 1318.4,1176.7 1316.2,1185.4 1319.5,1194.1 1322.8,1202.8 1317.3,1209.4 1310.8,1211.6 1313.0,1222.5 1321.7,1233.3 1332.6,1242.1 1339.1,1253.0 1341.3,1261.7 1334.7,1266.0 1330.4,1274.8 1330.4,1290.0 1332.6,1303.1 1331.5,1315.0 1329.9,1324.0 1325.4,1332.9 1324.3,1348.6 1332.1,1357.5 1332.1,1364.2 1331.0,1377.6 1325.4,1388.8 1323.2,1397.8 1325.4,1409.0 1329.9,1417.9 1334.4,1424.6 1341.1,1435.8 1350.0,1444.8 1361.2,1458.2 1370.1,1469.4 1379.1,1478.3 1385.8,1480.5 1379.1,1487.3 1372.4,1498.4 1367.9,1509.6 1359.0,1516.3 1343.3,1517.5 1323.2,1516.3 1305.3,1517.5 1291.8,1523.1 1278.4,1529.8 1265.0,1536.5 1245.9,1543.2 1234.7,1552.2 1212.3,1563.4 1190.0,1574.6 1167.6,1583.5 1145.2,1590.2 1134.0,1592.0 1129.5,1594.7 1116.1,1605.9 1098.2,1619.3 1084.8,1621.6 1071.4,1610.4 1055.7,1601.4 1033.3,1593.6 1008.7,1586.9 1024.4,1580.0 1022.8,1576.0 1020.4,1568.0 1020.4,1560.0 1023.6,1552.0 1022.5,1545.0 1017.7,1534.3 1008.7,1532.1 1002.0,1523.1 999.8,1509.7 996.4,1494.0 990.8,1480.6 986.3,1467.2 984.1,1456.0 981.9,1444.8 978.5,1431.4 979.6,1420.2 981.9,1406.7 986.4,1400.0 992.0,1386.1 996.8,1379.5 1001.5,1372.0 1004.3,1362.5 1005.2,1353.1 1006.2,1343.7 1007.1,1334.3 1010.0,1324.8 1014.7,1313.5 1020.3,1304.1 1021.3,1296.5 1026.0,1293.7 1031.6,1289.0 1039.2,1283.4 1039.2,1274.9 1042.9,1272.0 1047.7,1268.3 1046.7,1249.4 1045.8,1240.0 1044.3,1233.2 1040.0,1211.4 1037.8,1200.5 1032.3,1187.5 1024.7,1185.3 1025.8,1176.6 1030.2,1167.9 1031.3,1159.2 1026.9,1148.3 1030.2,1141.7 1029.1,1130.8 1024.7,1119.9 1023.6,1106.9 1022.5,1091.6 1023.6,1076.4 1021.4,1063.3 1022.5,1050.2 1020.4,1043.7 1017.1,1032.8 1013.8,1015.4 1018.2,1000.1" fill="url(#stripes)"/>
<polygon points="1087.0,1346.3 1098.2,1344.1 1109.4,1346.3 1116.1,1353.0 1125.1,1355.3 1138.5,1341.9 1151.9,1330.7 1156.4,1339.6 1165.3,1344.1 1178.8,1339.6 1192.2,1337.4 1210.1,1337.4 1219.0,1344.1 1228.0,1353.0 1243.7,1359.8 1252.6,1368.7 1221.3,1384.4 1210.1,1400.0 1192.2,1417.9 1194.4,1431.4 1183.2,1444.8 1174.3,1458.2 1167.6,1471.6 1165.3,1485.1 1163.1,1500.7 1145.2,1503.0 1129.5,1500.7 1111.6,1494.0 1100.4,1485.1 1091.5,1471.6 1087.0,1464.9 1078.1,1458.2 1071.4,1447.0 1064.6,1442.5 1057.9,1447.0 1060.2,1431.4 1062.4,1415.7 1066.9,1404.5 1060.2,1400.0 1066.9,1388.8 1080.3,1384.4 1093.7,1382.1 1102.7,1373.2 1104.9,1366.5 1093.7,1359.8 1089.3,1353.0" fill="#e1b22f"/>
<polygon points="1252.6,1368.7 1275.0,1370.5 1294.1,1375.4 1296.3,1382.1 1298.6,1384.4 1294.1,1400.0 1289.6,1411.2 1294.1,1422.4 1291.8,1435.8 1294.1,1449.2 1289.6,1462.7 1285.1,1471.6 1289.6,1480.5 1303.0,1489.5 1305.3,1494.0 1298.6,1500.7 1287.4,1496.2 1276.2,1494.0 1265.0,1500.7 1263.8,1509.7 1245.9,1514.2 1232.5,1516.4 1223.5,1518.6 1201.1,1518.6 1178.8,1516.4 1172.1,1511.9 1163.1,1500.7 1165.3,1485.1 1167.6,1471.6 1174.3,1458.2 1183.2,1444.8 1194.4,1431.4 1192.2,1417.9 1210.1,1400.0 1221.3,1384.4" fill="#eff548"/>
<polygon points="1296.3,1382.1 1309.7,1373.2 1323.2,1365.3 1332.1,1364.2 1331.0,1377.6 1325.4,1388.8 1323.2,1397.8 1325.4,1409.0 1329.9,1417.9 1334.4,1424.6 1341.1,1435.8 1350.0,1444.8 1361.2,1458.2 1370.1,1469.4 1379.1,1478.3 1385.8,1480.5 1379.1,1487.3 1372.4,1498.4 1367.9,1509.6 1359.0,1516.3 1343.3,1517.5 1338.8,1509.6 1334.4,1500.7 1329.9,1496.2 1318.7,1494.0 1305.3,1494.0 1303.0,1489.5 1289.6,1480.5 1285.1,1471.6 1289.6,1462.7 1294.1,1449.2 1291.8,1435.8 1294.1,1422.4 1289.6,1411.2 1294.1,1400.0 1298.6,1384.4" fill="#45a04b"/>
<polygon points="1232.5,1516.4 1245.9,1514.2 1263.8,1509.7 1265.0,1500.7 1276.2,1494.0 1287.4,1496.2 1298.6,1500.7 1305.3,1494.0 1318.7,1494.0 1329.9,1496.2 1334.4,1500.7 1338.8,1509.6 1343.3,1517.5 1323.2,1516.3 1305.3,1517.5 1291.8,1523.1 1278.4,1529.8 1265.0,1536.5 1245.9,1543.2 1239.0,1535.0 1237.0,1526.0" fill="#9a5b1d"/>
<polygon points="1082.0,1466.0 1091.5,1471.6 1100.4,1485.1 1111.6,1494.0 1129.5,1500.7 1145.2,1503.0 1163.1,1500.7 1172.1,1511.9 1178.8,1516.4 1201.1,1518.6 1223.5,1518.6 1232.5,1516.4 1237.0,1526.0 1239.0,1535.0 1245.9,1543.2 1234.7,1552.2 1212.3,1563.4 1190.0,1574.6 1167.6,1583.5 1145.2,1590.2 1134.0,1592.0 1134.0,1583.5 1140.7,1574.6 1145.2,1567.9 1134.0,1556.7 1131.8,1538.8 1125.1,1534.3 1111.6,1527.6 1111.6,1503.0 1102.0,1494.0 1094.0,1485.0" fill="#d63a3b"/>
<g fill="none" stroke="#000" stroke-width="3.5" stroke-linejoin="round" stroke-linecap="round"><polyline points="1144.5,983.8 1142.4,1000.1 1135.8,1013.2 1138.0,1024.1 1144.5,1035.0 1151.1,1039.3 1162.0,1054.6 1172.9,1043.7 1185.9,1037.1 1196.8,1028.4 1212.1,1024.1 1214.3,1030.6 1223.0,1028.4 1236.0,1024.1 1244.8,1017.5 1260.0,1013.2 1268.7,1008.8 1275.0,1004.5"/><polyline points="1142.4,1043.7 1131.5,1052.4 1129.3,1063.3 1131.5,1074.2 1127.1,1080.7 1120.6,1089.4 1118.4,1102.5 1107.5,1102.5 1077.0,1106.9 1053.0,1109.0 1037.8,1115.6 1024.7,1119.9"/><polyline points="1131.5,1074.2 1151.1,1078.5 1168.5,1076.4 1177.2,1072.0 1188.1,1065.5 1194.7,1067.6 1203.4,1072.0 1205.5,1078.5 1207.7,1072.0 1216.4,1058.9 1225.2,1056.8 1238.2,1058.9 1260.0,1054.6 1275.0,1050.2"/><polyline points="1105.3,1226.7 1114.0,1222.3 1129.3,1220.2 1140.2,1215.8 1151.1,1211.4 1162.0,1218.0 1170.7,1224.5 1170.7,1233.2 1164.2,1244.1 1162.0,1255.0 1168.5,1265.9 1172.9,1276.8 1177.2,1292.0 1181.6,1287.7 1183.8,1276.8 1190.3,1265.9 1205.5,1257.2 1216.4,1261.5 1229.5,1270.3 1238.2,1274.6 1251.3,1276.8 1260.0,1281.2 1266.5,1289.9 1270.9,1307.3 1275.0,1319.9"/><polyline points="1105.3,1226.7 1103.1,1237.6 1103.1,1250.7 1109.7,1259.4 1116.2,1261.5 1111.9,1265.9 1107.5,1270.3 1096.6,1272.4 1085.7,1274.6"/><polyline points="1170.7,1080.7 1172.9,1091.6 1164.2,1098.1 1155.4,1100.3 1155.4,1113.4 1158.7,1124.3 1159.8,1135.2 1157.6,1146.1 1162.0,1152.6 1183.8,1152.6 1205.5,1154.8 1227.3,1154.8 1238.2,1157.0 1249.1,1163.5 1251.3,1174.4 1246.7,1180.0 1233.9,1189.1 1232.1,1198.3 1224.8,1209.3 1230.2,1216.6 1239.4,1225.7 1254.0,1233.0 1257.7,1238.5 1254.0,1247.6 1248.5,1253.1 1257.7,1256.8 1272.3,1255.0 1281.4,1258.6 1288.7,1264.1 1296.0,1256.8 1294.2,1249.5 1288.7,1247.6 1285.1,1240.3 1286.9,1231.2 1288.7,1222.0 1292.4,1214.7 1303.4,1212.9 1312.5,1211.1"/><polyline points="1040.0,1209.3 1038.3,1209.3 1062.0,1234.8 1080.3,1271.4 1093.1,1297.0 1100.4,1315.3 1087.6,1319.9 1083.1,1331.7 1084.0,1344.5 1087.0,1346.3"/><polyline points="1269.4,1052.4 1273.7,1052.4 1275.9,1067.7 1278.1,1080.8 1286.8,1083.0 1297.7,1083.0 1310.8,1080.8"/><polyline points="1089.3,1353.0 1080.3,1359.8 1066.9,1366.5 1049.0,1368.7 1044.5,1375.4 1028.8,1379.9 1019.9,1391.1 1017.7,1404.5 1019.9,1424.6 1028.8,1431.4 1037.8,1438.1 1049.0,1449.3 1055.7,1453.7 1057.9,1447.0"/><polyline points="997.5,1386.6 1008.7,1395.6 1015.4,1400.0 1017.7,1404.5"/><polyline points="1078.1,1471.6 1062.4,1476.1 1051.2,1478.3 1046.7,1485.1 1044.5,1494.0 1046.7,1505.2 1044.5,1516.4 1042.3,1534.3 1035.6,1543.2 1028.8,1554.4 1026.6,1556.7"/><polyline points="1276.2,1315.0 1282.9,1328.4 1287.4,1339.6 1294.1,1355.3 1296.3,1366.5 1294.1,1379.9"/>
<polygon points="1087.0,1346.3 1098.2,1344.1 1109.4,1346.3 1116.1,1353.0 1125.1,1355.3 1138.5,1341.9 1151.9,1330.7 1156.4,1339.6 1165.3,1344.1 1178.8,1339.6 1192.2,1337.4 1210.1,1337.4 1219.0,1344.1 1228.0,1353.0 1243.7,1359.8 1252.6,1368.7 1221.3,1384.4 1210.1,1400.0 1192.2,1417.9 1194.4,1431.4 1183.2,1444.8 1174.3,1458.2 1167.6,1471.6 1165.3,1485.1 1163.1,1500.7 1145.2,1503.0 1129.5,1500.7 1111.6,1494.0 1100.4,1485.1 1091.5,1471.6 1087.0,1464.9 1078.1,1458.2 1071.4,1447.0 1064.6,1442.5 1057.9,1447.0 1060.2,1431.4 1062.4,1415.7 1066.9,1404.5 1060.2,1400.0 1066.9,1388.8 1080.3,1384.4 1093.7,1382.1 1102.7,1373.2 1104.9,1366.5 1093.7,1359.8 1089.3,1353.0"/>
<polygon points="1252.6,1368.7 1275.0,1370.5 1294.1,1375.4 1296.3,1382.1 1298.6,1384.4 1294.1,1400.0 1289.6,1411.2 1294.1,1422.4 1291.8,1435.8 1294.1,1449.2 1289.6,1462.7 1285.1,1471.6 1289.6,1480.5 1303.0,1489.5 1305.3,1494.0 1298.6,1500.7 1287.4,1496.2 1276.2,1494.0 1265.0,1500.7 1263.8,1509.7 1245.9,1514.2 1232.5,1516.4 1223.5,1518.6 1201.1,1518.6 1178.8,1516.4 1172.1,1511.9 1163.1,1500.7 1165.3,1485.1 1167.6,1471.6 1174.3,1458.2 1183.2,1444.8 1194.4,1431.4 1192.2,1417.9 1210.1,1400.0 1221.3,1384.4"/>
<polygon points="1296.3,1382.1 1309.7,1373.2 1323.2,1365.3 1332.1,1364.2 1331.0,1377.6 1325.4,1388.8 1323.2,1397.8 1325.4,1409.0 1329.9,1417.9 1334.4,1424.6 1341.1,1435.8 1350.0,1444.8 1361.2,1458.2 1370.1,1469.4 1379.1,1478.3 1385.8,1480.5 1379.1,1487.3 1372.4,1498.4 1367.9,1509.6 1359.0,1516.3 1343.3,1517.5 1338.8,1509.6 1334.4,1500.7 1329.9,1496.2 1318.7,1494.0 1305.3,1494.0 1303.0,1489.5 1289.6,1480.5 1285.1,1471.6 1289.6,1462.7 1294.1,1449.2 1291.8,1435.8 1294.1,1422.4 1289.6,1411.2 1294.1,1400.0 1298.6,1384.4"/>
<polygon points="1232.5,1516.4 1245.9,1514.2 1263.8,1509.7 1265.0,1500.7 1276.2,1494.0 1287.4,1496.2 1298.6,1500.7 1305.3,1494.0 1318.7,1494.0 1329.9,1496.2 1334.4,1500.7 1338.8,1509.6 1343.3,1517.5 1323.2,1516.3 1305.3,1517.5 1291.8,1523.1 1278.4,1529.8 1265.0,1536.5 1245.9,1543.2 1239.0,1535.0 1237.0,1526.0"/>
<polygon points="1082.0,1466.0 1091.5,1471.6 1100.4,1485.1 1111.6,1494.0 1129.5,1500.7 1145.2,1503.0 1163.1,1500.7 1172.1,1511.9 1178.8,1516.4 1201.1,1518.6 1223.5,1518.6 1232.5,1516.4 1237.0,1526.0 1239.0,1535.0 1245.9,1543.2 1234.7,1552.2 1212.3,1563.4 1190.0,1574.6 1167.6,1583.5 1145.2,1590.2 1134.0,1592.0 1134.0,1583.5 1140.7,1574.6 1145.2,1567.9 1134.0,1556.7 1131.8,1538.8 1125.1,1534.3 1111.6,1527.6 1111.6,1503.0 1102.0,1494.0 1094.0,1485.0"/>
<polygon points="1019.3,984.9 1144.5,983.8 1172.9,982.7 1194.6,984.9 1214.3,987.0 1218.6,992.5 1225.2,984.9 1236.0,974.0 1249.1,968.5 1260.0,974.0 1268.7,970.7 1275.9,977.2 1274.8,993.6 1271.5,1004.5 1269.4,1017.6 1278.1,1026.3 1286.8,1037.2 1297.7,1043.7 1304.2,1050.3 1310.8,1056.8 1310.8,1072.1 1311.9,1083.0 1310.8,1091.7 1307.5,1102.6 1308.6,1117.8 1304.2,1124.4 1299.9,1133.1 1301.0,1144.0 1308.6,1141.8 1317.3,1141.8 1323.8,1148.3 1321.7,1163.6 1318.4,1176.7 1316.2,1185.4 1319.5,1194.1 1322.8,1202.8 1317.3,1209.4 1310.8,1211.6 1313.0,1222.5 1321.7,1233.3 1332.6,1242.1 1339.1,1253.0 1341.3,1261.7 1334.7,1266.0 1330.4,1274.8 1330.4,1290.0 1332.6,1303.1 1331.5,1315.0 1329.9,1324.0 1325.4,1332.9 1324.3,1348.6 1332.1,1357.5 1332.1,1364.2 1331.0,1377.6 1325.4,1388.8 1323.2,1397.8 1325.4,1409.0 1329.9,1417.9 1334.4,1424.6 1341.1,1435.8 1350.0,1444.8 1361.2,1458.2 1370.1,1469.4 1379.1,1478.3 1385.8,1480.5 1379.1,1487.3 1372.4,1498.4 1367.9,1509.6 1359.0,1516.3 1343.3,1517.5 1323.2,1516.3 1305.3,1517.5 1291.8,1523.1 1278.4,1529.8 1265.0,1536.5 1245.9,1543.2 1234.7,1552.2 1212.3,1563.4 1190.0,1574.6 1167.6,1583.5 1145.2,1590.2 1134.0,1592.0 1129.5,1594.7 1116.1,1605.9 1098.2,1619.3 1084.8,1621.6 1071.4,1610.4 1055.7,1601.4 1033.3,1593.6 1008.7,1586.9 1024.4,1580.0 1022.8,1576.0 1020.4,1568.0 1020.4,1560.0 1023.6,1552.0 1022.5,1545.0 1017.7,1534.3 1008.7,1532.1 1002.0,1523.1 999.8,1509.7 996.4,1494.0 990.8,1480.6 986.3,1467.2 984.1,1456.0 981.9,1444.8 978.5,1431.4 979.6,1420.2 981.9,1406.7 986.4,1400.0 992.0,1386.1 996.8,1379.5 1001.5,1372.0 1004.3,1362.5 1005.2,1353.1 1006.2,1343.7 1007.1,1334.3 1010.0,1324.8 1014.7,1313.5 1020.3,1304.1 1021.3,1296.5 1026.0,1293.7 1031.6,1289.0 1039.2,1283.4 1039.2,1274.9 1042.9,1272.0 1047.7,1268.3 1046.7,1249.4 1045.8,1240.0 1044.3,1233.2 1040.0,1211.4 1037.8,1200.5 1032.3,1187.5 1024.7,1185.3 1025.8,1176.6 1030.2,1167.9 1031.3,1159.2 1026.9,1148.3 1030.2,1141.7 1029.1,1130.8 1024.7,1119.9 1023.6,1106.9 1022.5,1091.6 1023.6,1076.4 1021.4,1063.3 1022.5,1050.2 1020.4,1043.7 1017.1,1032.8 1013.8,1015.4 1018.2,1000.1" stroke-width="3.8"/>
</g>
<text x="1416.5" y="1497.5" style="font-family:'DejaVu Sans',sans-serif;font-weight:bold;font-size:14.5px;fill:#1a1a1a">Regions of Ghana</text>
<rect x="1415.2" y="1523.2" width="17.8" height="17.2" fill="#d63a3b" stroke="#555" stroke-width="0.8"/>
<text x="1446.2" y="1537.0" style="font-family:'DejaVu Sans',sans-serif;font-size:15.5px;fill:#444">Central</text>
<rect x="1415.2" y="1548.8" width="17.8" height="17.2" fill="#45a04b" stroke="#555" stroke-width="0.8"/>
<text x="1446.2" y="1562.6" style="font-family:'DejaVu Sans',sans-serif;font-size:15.5px;fill:#444">Volta</text>
<rect x="1415.2" y="1574.4" width="17.8" height="17.2" fill="#9a5b1d" stroke="#555" stroke-width="0.8"/>
<text x="1446.2" y="1588.2" style="font-family:'DejaVu Sans',sans-serif;font-size:15.5px;fill:#444">Greater Accra</text>
<rect x="1415.2" y="1600.0" width="17.8" height="17.2" fill="#eff548" stroke="#555" stroke-width="0.8"/>
<text x="1446.2" y="1613.8" style="font-family:'DejaVu Sans',sans-serif;font-size:15.5px;fill:#444">Eastern</text>
<rect x="1415.2" y="1625.6" width="17.8" height="17.2" fill="#e1b22f" stroke="#555" stroke-width="0.8"/>
<text x="1446.2" y="1639.4" style="font-family:'DejaVu Sans',sans-serif;font-size:15.5px;fill:#444">Ashanti</text>
<rect x="1415.2" y="1651.2" width="17.8" height="17.2" fill="url(#stripes2)" stroke="#555" stroke-width="0.8"/>
<text x="1446.2" y="1665.0" style="font-family:'DejaVu Sans',sans-serif;font-size:15.5px;fill:#444">Ghana</text>
</g>
<rect x="957.1" y="952.7" width="634.8" height="739.9" fill="none" stroke="#000" stroke-width="3.8"/>
</svg></body></html>
